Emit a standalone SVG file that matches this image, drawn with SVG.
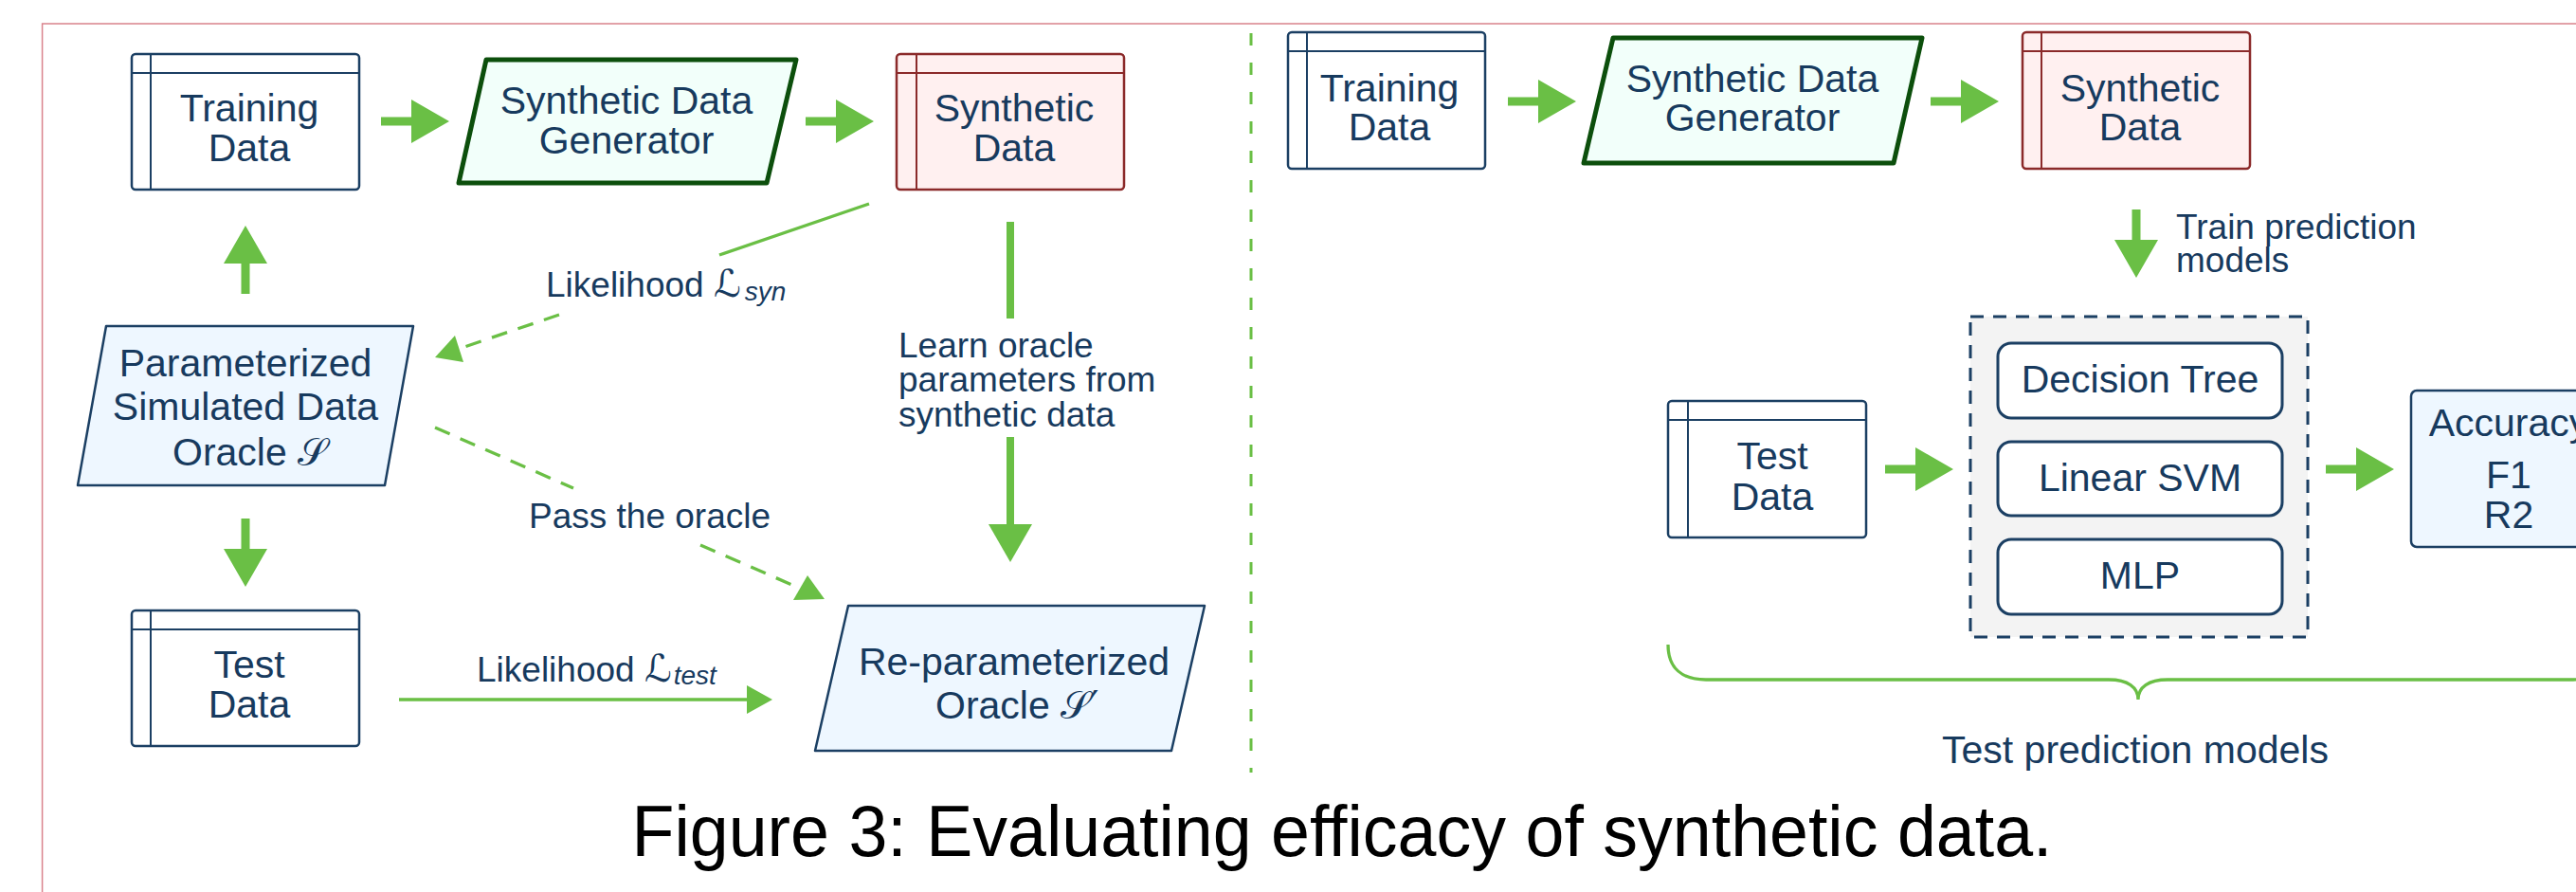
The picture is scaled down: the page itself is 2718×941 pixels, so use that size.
<svg xmlns="http://www.w3.org/2000/svg" width="2718" height="941" viewBox="0 0 2718 941">
<style>
.nt{font-family:"Liberation Sans",Arial,Helvetica,sans-serif;font-size:41px;fill:#173a5e;text-anchor:middle}
.ns{font-family:"Liberation Sans",Arial,Helvetica,sans-serif;font-size:41px;fill:#173a5e;text-anchor:start}
.lbl{font-family:"Liberation Sans",Arial,Helvetica,sans-serif;font-size:37px;fill:#173a5e}
.scr{font-family:"DejaVu Sans",sans-serif;font-size:40px}
.sub{font-style:italic;font-size:28px}
.data{fill:#ffffff;stroke:#1b3f63;stroke-width:2.5}
.dl{fill:none;stroke:#1b3f63;stroke-width:2}
.syn{fill:#fff0f0;stroke:#8b2a2a;stroke-width:2.5}
.sl{fill:none;stroke:#8b2a2a;stroke-width:2}
.gen{fill:#f2fffa;stroke:#0c4f0c;stroke-width:5;stroke-linejoin:round}
.orc{fill:#eef7ff;stroke:#1b3f63;stroke-width:2.5;stroke-linejoin:round}
.mdl{fill:#ffffff;stroke:#1b3f63;stroke-width:3}
.gf{fill:#6abf45}
.gl{stroke:#6abf45;stroke-width:3.3;fill:none}
.gd{stroke:#6abf45;stroke-width:3.3;fill:none;stroke-dasharray:17 12}
</style>
<defs>
<path id="ba" d="M0,-4.5H32V-23L72,0L32,23V4.5H0Z"/>
</defs>

<path d="M2760,25H44.6V941" fill="none" stroke="#d9828c" stroke-width="1.5"/>

<g id="connectors">
<use href="#ba" class="gf" transform="translate(402,128)"/>
<use href="#ba" class="gf" transform="translate(850,128)"/>
<use href="#ba" class="gf" transform="translate(259,310) rotate(-90)"/>
<use href="#ba" class="gf" transform="translate(259,547) rotate(90)"/>
<use href="#ba" class="gf" transform="translate(1591,107)"/>
<use href="#ba" class="gf" transform="translate(2037,107)"/>
<use href="#ba" class="gf" transform="translate(1989,495)"/>
<use href="#ba" class="gf" transform="translate(2454,495)"/>
<use href="#ba" class="gf" transform="translate(2254,221) rotate(90)"/>
<rect class="gf" x="1062" y="234" width="8" height="102"/>
<rect class="gf" x="1062" y="461" width="8" height="92"/>
<polygon class="gf" points="1043,553 1089,553 1066,593"/>
<line class="gl" x1="421" y1="738" x2="790" y2="738"/>
<polygon class="gf" points="788,723 815,738 788,753"/>
<line class="gl" x1="917" y1="215" x2="759" y2="269"/>
<line class="gd" x1="590" y1="332" x2="484" y2="368"/>
<polygon class="gf" points="480,354 489,382 459,377"/>
<line class="gd" x1="459" y1="451" x2="605" y2="515"/>
<line class="gd" x1="739" y1="575" x2="845" y2="621"/>
<polygon class="gf" points="852,607 837,633 870,632"/>
<line x1="1320" y1="35" x2="1320" y2="815" stroke="#6abf45" stroke-width="3" stroke-dasharray="13 18"/>
<path class="gl" d="M1760,680C1760,705 1775,717 1800,717H2225C2245,717 2256,725 2256,738C2256,725 2267,717 2287,717H2712C2737,717 2752,705 2752,680"/>
</g>

<g id="labels">
<text class="lbl" x="576" y="313">Likelihood <tspan class="scr">ℒ</tspan><tspan class="sub" dx="4" dy="4">syn</tspan></text>
<text class="lbl" x="503" y="719">Likelihood <tspan class="scr">ℒ</tspan><tspan class="sub" dx="2" dy="3">test</tspan></text>
<text class="lbl" x="558" y="557">Pass the oracle</text>
<text class="lbl" x="948" y="377">Learn oracle</text>
<text class="lbl" x="948" y="413">parameters from</text>
<text class="lbl" x="948" y="450">synthetic data</text>
<text class="lbl" x="2296" y="252">Train prediction</text>
<text class="lbl" x="2296" y="287">models</text>
<text class="nt" x="2253" y="805" font-size="42">Test prediction models</text>
</g>

<g id="training-left">
<rect class="data" x="139" y="57" width="240" height="143" rx="4"/>
<path class="dl" d="M139,77H379M159,57V200"/>
<text class="nt" x="263" y="128">Training</text>
<text class="nt" x="263" y="170">Data</text>
</g>

<g id="generator-left">
<polygon class="gen" points="513,63 840,63 809,193 484,193"/>
<text class="nt" x="661" y="120">Synthetic Data</text>
<text class="nt" x="661" y="162">Generator</text>
</g>

<g id="synthetic-left">
<rect class="syn" x="946" y="57" width="240" height="143" rx="4"/>
<path class="sl" d="M946,77H1186M967,57V200"/>
<text class="nt" x="1070" y="128">Synthetic</text>
<text class="nt" x="1070" y="170">Data</text>
</g>

<g id="oracle">
<polygon class="orc" points="112,344 436,344 406,512 82,512"/>
<text class="nt" x="259" y="397">Parameterized</text>
<text class="nt" x="259" y="443">Simulated Data</text>
<text class="ns" x="182" y="491">Oracle <tspan class="scr">𝒮</tspan></text>
</g>

<g id="test-left">
<rect class="data" x="139" y="644" width="240" height="143" rx="4"/>
<path class="dl" d="M139,664H379M159,644V787"/>
<text class="nt" x="263" y="715">Test</text>
<text class="nt" x="263" y="757">Data</text>
</g>

<g id="reparam">
<polygon class="orc" points="895,639 1271,639 1236,792 860,792"/>
<text class="nt" x="1070" y="712">Re-parameterized</text>
<text class="ns" x="987" y="758">Oracle <tspan class="scr">𝒮′</tspan></text>
</g>

<g id="training-right">
<rect class="data" x="1359" y="34" width="208" height="144" rx="4"/>
<path class="dl" d="M1359,54H1567M1379,34V178"/>
<text class="nt" x="1466" y="107">Training</text>
<text class="nt" x="1466" y="148">Data</text>
</g>

<g id="generator-right">
<polygon class="gen" points="1702,40 2028,40 1998,172 1671,172"/>
<text class="nt" x="1849" y="97">Synthetic Data</text>
<text class="nt" x="1849" y="138">Generator</text>
</g>

<g id="synthetic-right">
<rect class="syn" x="2134" y="34" width="240" height="144" rx="4"/>
<path class="sl" d="M2134,54H2374M2154,34V178"/>
<text class="nt" x="2258" y="107">Synthetic</text>
<text class="nt" x="2258" y="148">Data</text>
</g>

<g id="test-right">
<rect class="data" x="1760" y="423" width="209" height="144" rx="4"/>
<path class="dl" d="M1760,443H1969M1781,423V567"/>
<text class="nt" x="1870" y="495">Test</text>
<text class="nt" x="1870" y="538">Data</text>
</g>

<g id="models">
<rect x="2079" y="334" width="356" height="338" fill="#f3f3f3" stroke="#1b3f63" stroke-width="3" stroke-dasharray="14 10"/>
<g id="decision-tree">
<rect class="mdl" x="2108" y="362" width="300" height="79" rx="14"/>
<text class="nt" x="2258" y="414">Decision Tree</text>
</g>
<g id="linear-svm">
<rect class="mdl" x="2108" y="466" width="300" height="78" rx="14"/>
<text class="nt" x="2258" y="518">Linear SVM</text>
</g>
<g id="mlp">
<rect class="mdl" x="2108" y="569" width="300" height="79" rx="14"/>
<text class="nt" x="2258" y="621">MLP</text>
</g>
</g>

<g id="metrics">
<rect class="orc" x="2544" y="412" width="206" height="165" rx="6"/>
<text class="nt" x="2647" y="460">Accuracy</text>
<text class="nt" x="2647" y="515" font-size="37">F1</text>
<text class="nt" x="2647" y="557" font-size="37">R2</text>
</g>

<text x="1416" y="903" font-family="Liberation Sans, Arial, sans-serif" font-size="76" fill="#000000" text-anchor="middle" textLength="1499" lengthAdjust="spacingAndGlyphs">Figure 3: Evaluating efficacy of synthetic data.</text>
</svg>
